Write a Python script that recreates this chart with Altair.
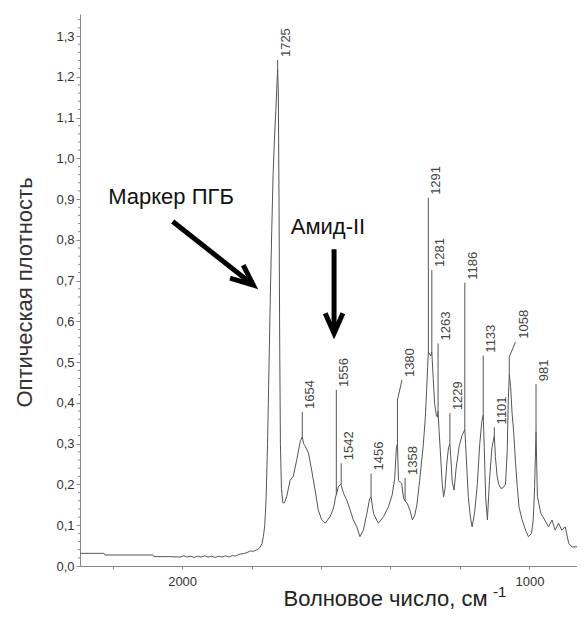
import altair as alt
import pandas as pd

# ---------------- spectrum (wavenumber, absorbance) ----------------
wn = [
    2294, 2225, 2222, 2084, 2081, 2040, 2006, 1995, 1985, 1975,
    1965, 1955, 1945, 1935, 1925, 1915, 1905, 1895, 1885, 1875,
    1865, 1855, 1847, 1840, 1833, 1820, 1810, 1804, 1795, 1784,
    1776, 1770, 1766, 1762, 1758, 1754, 1750, 1746, 1742, 1738,
    1734, 1730, 1727, 1725, 1723, 1721, 1719, 1717, 1714, 1710,
    1705, 1699, 1689, 1680, 1670, 1660, 1654, 1650, 1645, 1636,
    1627, 1617, 1608, 1598, 1588, 1574, 1564, 1558, 1556, 1550,
    1544, 1542, 1535, 1526, 1516, 1507, 1497, 1488, 1478, 1468,
    1460, 1456, 1449, 1435, 1420, 1406, 1395, 1388, 1383, 1380,
    1377, 1368, 1362, 1358, 1351, 1344, 1337, 1330, 1324, 1316,
    1306, 1300, 1296, 1293, 1291, 1287, 1284, 1281, 1277, 1273,
    1268, 1265, 1263, 1260, 1255, 1251, 1247, 1243, 1238, 1233,
    1229, 1226, 1222, 1217, 1211, 1202, 1194, 1186, 1182, 1176,
    1170, 1165, 1158, 1150, 1143, 1137, 1133, 1130, 1126, 1121,
    1115, 1108, 1101, 1098, 1093, 1088, 1082, 1076, 1069, 1064,
    1061, 1058, 1054, 1050, 1045, 1040, 1035, 1030, 1021, 1011,
    1003, 994, 989, 985, 981, 977, 967, 956, 945, 935,
    926, 916, 907, 897, 887, 878, 858, 844, 840,
]
absorb = [
    0.031, 0.031, 0.027, 0.027, 0.023, 0.023, 0.022, 0.025, 0.022, 0.024,
    0.021, 0.024, 0.022, 0.025, 0.022, 0.024, 0.021, 0.024, 0.022, 0.025,
    0.022, 0.026, 0.024, 0.027, 0.029, 0.031, 0.034, 0.037, 0.036, 0.040,
    0.045, 0.055, 0.072, 0.10, 0.17, 0.30, 0.48, 0.66, 0.82, 0.96,
    1.05, 1.12, 1.18, 1.22, 1.16, 0.90, 0.55, 0.30, 0.19, 0.155,
    0.155, 0.17, 0.21, 0.22, 0.26, 0.305, 0.317, 0.30, 0.293, 0.277,
    0.235, 0.186, 0.137, 0.113, 0.105, 0.121, 0.142, 0.17, 0.175, 0.195,
    0.20, 0.198, 0.178, 0.162, 0.137, 0.113, 0.096, 0.072, 0.088, 0.129,
    0.165, 0.17, 0.129, 0.105, 0.121, 0.145, 0.175, 0.215, 0.29, 0.30,
    0.21, 0.203, 0.165, 0.16, 0.152, 0.137, 0.113, 0.125, 0.15, 0.21,
    0.293, 0.36, 0.43, 0.49, 0.525, 0.52, 0.515, 0.525, 0.46, 0.40,
    0.37, 0.365, 0.38, 0.33, 0.26, 0.20, 0.17, 0.19, 0.25, 0.29,
    0.30, 0.26, 0.205, 0.186, 0.24, 0.295, 0.32, 0.335, 0.27, 0.17,
    0.12, 0.096, 0.13, 0.20, 0.30, 0.355, 0.37, 0.29, 0.17, 0.113,
    0.21, 0.29, 0.32, 0.268, 0.22, 0.20, 0.19, 0.192, 0.20, 0.28,
    0.40, 0.47, 0.44, 0.375, 0.326, 0.253, 0.195, 0.145, 0.113, 0.088,
    0.072, 0.08, 0.113, 0.195, 0.33, 0.17, 0.129, 0.113, 0.096, 0.113,
    0.088, 0.105, 0.088, 0.096, 0.056, 0.047, 0.047, 0.056, 0.07,
]
assert len(wn) == len(absorb)

# ---------------- peak labels ----------------
peak_labels = ["1725", "1654", "1556", "1542", "1456", "1380", "1358", "1291",
               "1281", "1263", "1229", "1186", "1133", "1101", "1058", "981"]
peak_wn = [1725, 1654, 1556, 1542, 1456, 1380, 1358, 1291,
           1281, 1263, 1229, 1186, 1133, 1101, 1058, 981]
peak_base = [1.22, 0.317, 0.175, 0.198, 0.17, 0.30, 0.16, 0.525,
             0.525, 0.38, 0.30, 0.335, 0.37, 0.32, 0.47, 0.33]
peak_knee = [1.241, 0.378, 0.432, 0.252, 0.227, 0.407, 0.216, 0.903,
             0.726, 0.546, 0.375, 0.695, 0.516, 0.34, 0.513, 0.446]
label_wn = [1725, 1654, 1556, 1542, 1456, 1367, 1358, 1291,
            1281, 1263, 1229, 1186, 1133, 1101, 1040, 981]
label_y = [1.241, 0.378, 0.432, 0.252, 0.227, 0.456, 0.216, 0.903,
           0.726, 0.546, 0.375, 0.695, 0.516, 0.34, 0.55, 0.446]

# ---------------- annotations ----------------
note_text = ["Маркер ПГБ", "Амид-II"]
note_wn = [2032, 1580]
note_y = [0.888, 0.814]

arrow_part = ["a1", "a1", "h1", "h1", "h1", "a2", "a2", "h2", "h2", "h2"]
arrow_wn = [2027, 1795, 1862, 1795, 1824, 1562.5, 1562.5, 1588, 1562.5, 1537]
arrow_y = [0.845, 0.689, 0.706, 0.689, 0.738, 0.777, 0.571, 0.62, 0.571, 0.62]

y_ticks = [round(i * 0.1, 1) for i in range(14)]
y_minor = [round(i * 0.02, 2) for i in range(68) if i % 5 != 0]
x_ticks = list(range(2200, 850, -100))

# ---------------- data frames ----------------
spec_df = pd.DataFrame({"wn": wn, "a": absorb})

lead_rows = []
for lab, w, b, k, lw, ly in zip(peak_labels, peak_wn, peak_base, peak_knee, label_wn, label_y):
    lead_rows.append({"label": lab, "ord": 0, "wn": w, "a": b})
    lead_rows.append({"label": lab, "ord": 1, "wn": w, "a": k})
    lead_rows.append({"label": lab, "ord": 2, "wn": lw, "a": ly})
lead_df = pd.DataFrame(lead_rows)
lab_df = pd.DataFrame({"label": peak_labels, "wn": label_wn, "a": label_y})
note_df = pd.DataFrame({"text": note_text, "wn": note_wn, "a": note_y})
arrow_df = pd.DataFrame({"part": arrow_part, "wn": arrow_wn, "a": arrow_y,
                         "ord": list(range(len(arrow_part)))})
minor_df = pd.DataFrame({"a": y_minor})
sup_df = pd.DataFrame({"t": ["-1"]})

FONT = "Liberation Sans"
x_scale = alt.Scale(domain=[2294, 863], nice=False, zero=False)
y_scale = alt.Scale(domain=[0, 1.354], nice=False, zero=False)

x_axis = alt.Axis(
    values=x_ticks,
    labelExpr="datum.value % 500 === 0 ? format(datum.value, 'd') : ''",
    title="Волновое  число, см",
    titleX=305, titleY=39, titleAlign="center", titleBaseline="alphabetic",
    titleFont=FONT, titleFontSize=22, titleFontWeight="normal", titleColor="#222",
    labelFont=FONT, labelFontSize=13, labelColor="#333", labelPadding=6,
    tickSize=3, tickColor="#888", domainColor="#888", grid=False,
)
y_axis = alt.Axis(
    values=y_ticks,
    labelExpr="replace(format(datum.value, '.1f'), '.', ',')",
    title="Оптическая плотность",
    titleX=-49, titleY=278, titleAngle=270, titleAlign="center", titleBaseline="alphabetic",
    titleFont=FONT, titleFontSize=22, titleFontWeight="normal", titleColor="#333",
    labelFont=FONT, labelFontSize=13, labelColor="#333", labelPadding=2,
    tickSize=4, tickColor="#888", domainColor="#888", grid=False,
)

spectrum = alt.Chart(spec_df).mark_line(color="#555", strokeWidth=1, clip=True).encode(
    x=alt.X("wn:Q", scale=x_scale, axis=x_axis),
    y=alt.Y("a:Q", scale=y_scale, axis=y_axis),
)

leaders = alt.Chart(lead_df).mark_line(color="#555", strokeWidth=1).encode(
    x="wn:Q", y="a:Q", detail="label:N", order="ord:Q",
)

labels = alt.Chart(lab_df).mark_text(
    angle=270, align="left", baseline="middle", dx=3, dy=8,
    font=FONT, fontSize=13, color="#444",
).encode(x="wn:Q", y="a:Q", text="label:N")

notes = alt.Chart(note_df).mark_text(
    align="center", baseline="alphabetic", font=FONT, fontSize=22, color="#111",
).encode(x="wn:Q", y="a:Q", text="text:N")

arrows = alt.Chart(arrow_df).mark_line(
    color="#000", strokeWidth=5, strokeCap="butt", strokeJoin="miter",
).encode(x="wn:Q", y="a:Q", detail="part:N", order="ord:Q")

minor = alt.Chart(minor_df).mark_rule(color="#888", strokeWidth=1).encode(
    y="a:Q", x=alt.value(-2), x2=alt.value(0),
)

sup = alt.Chart(sup_df).mark_text(
    align="left", baseline="alphabetic", font=FONT, fontSize=15, color="#222",
).encode(x=alt.value(413), y=alt.value(583), text="t:N")

chart = alt.layer(spectrum, leaders, labels, notes, arrows, minor, sup).properties(
    width=497, height=552,
    autosize=alt.AutoSizeParams(type="none"),
    padding={"left": 72, "top": 6, "right": 0, "bottom": 45},
).configure_view(stroke=None)

chart.save("out.html", embed_options={"renderer": "svg", "actions": False})
